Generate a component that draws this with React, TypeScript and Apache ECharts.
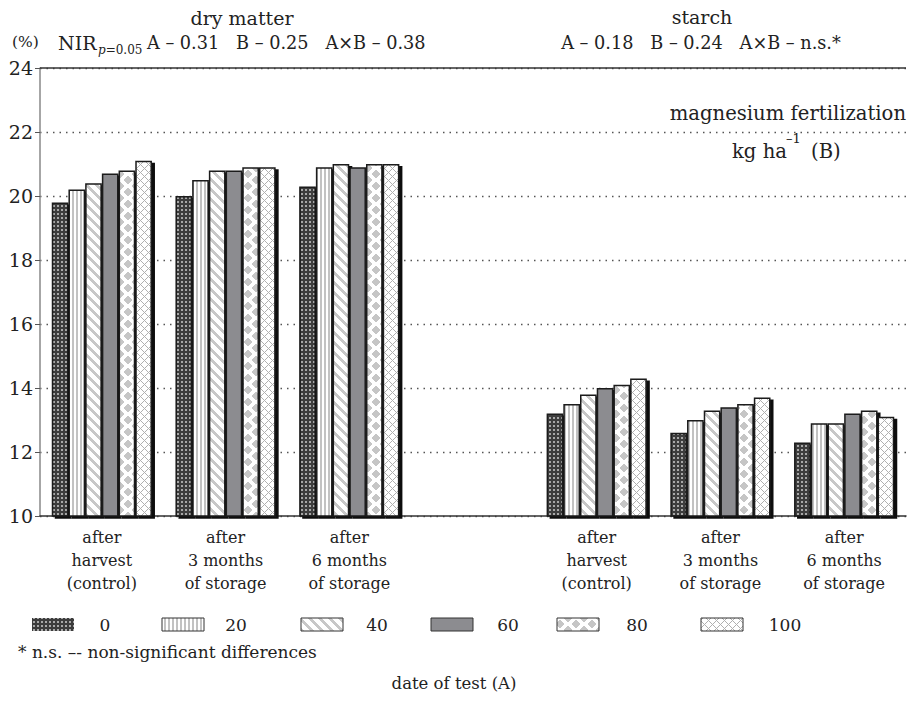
import React, { useEffect, useRef } from 'react';
import * as echarts from 'echarts';

// ---------- DATA ----------
const categories = [
  'after\nharvest\n(control)',
  'after\n3 months\nof storage',
  'after\n6 months\nof storage',
  '',
  'after\nharvest\n(control)',
  'after\n3 months\nof storage',
  'after\n6 months\nof storage',
];
const doseNames = ['0', '20', '40', '60', '80', '100'];

// dry matter (%) for the 3 test dates, by Mg dose
const dryMatter0 = [19.8, 20.0, 20.3];
const dryMatter20 = [20.2, 20.5, 20.9];
const dryMatter40 = [20.4, 20.8, 21.0];
const dryMatter60 = [20.7, 20.8, 20.9];
const dryMatter80 = [20.8, 20.9, 21.0];
const dryMatter100 = [21.1, 20.9, 21.0];

// starch (%) for the 3 test dates, by Mg dose
const starch0 = [13.2, 12.6, 12.3];
const starch20 = [13.5, 13.0, 12.9];
const starch40 = [13.8, 13.3, 12.9];
const starch60 = [14.0, 13.4, 13.2];
const starch80 = [14.1, 13.5, 13.3];
const starch100 = [14.3, 13.7, 13.1];

const yMin = 10;
const yMax = 24;
const yStep = 2;

const dryMatterNote = 'A – 0.31   B – 0.25   A×B – 0.38';
const starchNote = 'A – 0.18   B – 0.24   A×B – n.s.*';

// ---------- STYLE ----------
const FONT = '"DejaVu Serif", serif';
const INK = '#222';

function makeTile(w: number, h: number, fn: (x: number, y: number) => string) {
  const c = document.createElement('canvas');
  c.width = w;
  c.height = h;
  const ctx = c.getContext('2d')!;
  for (let y = 0; y < h; y++) {
    for (let x = 0; x < w; x++) {
      ctx.fillStyle = fn(x, y);
      ctx.fillRect(x, y, 1, 1);
    }
  }
  return { image: c, repeat: 'repeat', imageWidth: w, imageHeight: h } as any;
}

function buildPatterns() {
  const p0 = makeTile(4, 4, (x, y) => ((x === 1 || x === 2) && (y === 1 || y === 2) ? '#a8a8a8' : '#3c3c3c'));
  const p20 = makeTile(4, 1, (x) => (x < 2 ? '#c2c2c2' : '#ffffff'));
  const p40 = makeTile(10, 10, (x, y) => ((((x - y) % 10) + 10) % 10 < 4 ? '#c8c8c8' : '#ffffff'));
  const p60 = '#8c8c90';
  const p80 = makeTile(16, 12, (x, y) => {
    const pts = [[0, 0], [16, 0], [0, 12], [16, 12], [8, 6]];
    const cx = x + 0.5;
    const cy = y + 0.5;
    for (const [px, py] of pts) {
      if (Math.abs(cx - px) / 4.2 + Math.abs(cy - py) / 4.6 <= 1) return '#c6c6c6';
    }
    return '#ffffff';
  });
  const p100 = makeTile(8, 8, (x, y) => ((x + y) % 8 === 0 || (x - y + 8) % 8 === 0 ? '#b0b0b0' : '#ffffff'));
  return [p0, p20, p40, p60, p80, p100];
}

export default function App() {
  const ref = useRef<HTMLDivElement>(null);

  useEffect(() => {
    const chart = echarts.init(ref.current!, null, { renderer: 'svg' });
    const patterns = buildPatterns();
    const dryMatter = [dryMatter0, dryMatter20, dryMatter40, dryMatter60, dryMatter80, dryMatter100];
    const starch = [starch0, starch20, starch40, starch60, starch80, starch100];

    const series: any[] = doseNames.map((name, i) => ({
      type: 'bar',
      name,
      data: [...dryMatter[i], '-', ...starch[i]],
      barGap: '0%',
      barCategoryGap: '19%',
      itemStyle: {
        color: patterns[i],
        borderColor: '#1a1a1a',
        borderWidth: 1.5,
        shadowColor: '#111',
        shadowBlur: 0,
        shadowOffsetX: 3,
        shadowOffsetY: 2,
      },
      emphasis: { disabled: true },
      markLine:
        i === 0
          ? {
              silent: true,
              symbol: 'none',
              label: { show: false },
              lineStyle: { type: 'solid', color: '#333', width: 1.5 },
              data: [{ yAxis: yMax }],
            }
          : undefined,
    }));

    const legendX = [32, 162, 301, 431, 557, 701];
    const legendLabelX = [105, 236, 377, 508, 637, 785];
    const legendGraphics: any[] = [];
    doseNames.forEach((name, i) => {
      legendGraphics.push({
        type: 'rect',
        shape: { x: legendX[i], y: 618, width: 42, height: 13 },
        style: { fill: patterns[i], stroke: i === 0 ? null : '#333', lineWidth: 1 },
      });
      legendGraphics.push({
        type: 'text',
        x: legendLabelX[i],
        y: 625,
        style: { text: name, textAlign: 'center', textVerticalAlign: 'middle', font: `17px ${FONT}`, fill: INK },
      });
    });

    const txt = (x: number, y: number, text: string, size: number, align = 'center', extra: any = {}) => ({
      type: 'text',
      x,
      y,
      style: { text, textAlign: align, textVerticalAlign: 'middle', font: `${size}px ${FONT}`, fill: INK, ...extra },
    });

    chart.setOption({
      animation: false,
      backgroundColor: '#ffffff',
      textStyle: { fontFamily: FONT },
      grid: { left: 40, right: 2, top: 68, bottom: 194, containLabel: false },
      xAxis: {
        type: 'category',
        data: categories,
        axisLine: { lineStyle: { color: '#333', width: 1.5 } },
        axisTick: { show: false },
        axisLabel: { interval: 0, fontFamily: FONT, fontSize: 16, color: INK, lineHeight: 23, margin: 10 },
      },
      yAxis: {
        type: 'value',
        min: yMin,
        max: yMax,
        interval: yStep,
        axisLine: { show: true, lineStyle: { color: '#888', width: 1.5 } },
        axisTick: { show: true, length: 5, lineStyle: { color: '#555', width: 1 } },
        axisLabel: { fontFamily: FONT, fontSize: 19, color: INK, margin: 7 },
        splitLine: { show: true, lineStyle: { type: [1.5, 5], color: '#555', width: 1.3 } },
      },
      series,
      graphic: [
        txt(242, 18, 'dry matter', 19),
        txt(12, 42, '(%)', 15.5, 'left'),
        txt(58, 43, 'NIR', 19, 'left'),
        {
          type: 'text',
          x: 98,
          y: 50,
          style: {
            text: '{i|p}=0.05',
            textAlign: 'left',
            textVerticalAlign: 'middle',
            font: `12px ${FONT}`,
            fill: INK,
            rich: { i: { fontStyle: 'italic', fontFamily: FONT, fontSize: 12, fill: INK } },
          },
        },
        txt(147, 43, dryMatterNote, 17.7, 'left'),
        txt(702, 17, 'starch', 19),
        txt(701, 43, starchNote, 17.7),
        txt(906, 113, 'magnesium fertilization', 19.6, 'right'),
        txt(732, 151, 'kg ha', 19.6, 'left'),
        txt(786, 138, '–1', 13, 'left'),
        txt(811, 151, '(B)', 19.6, 'left'),
        ...legendGraphics,
        txt(18, 652, '* n.s. –- non-significant differences', 17, 'left'),
        txt(454, 683, 'date of test (A)', 16.5),
      ],
    });

    return () => chart.dispose();
  }, []);

  return (
    <div
      ref={ref}
      style={{ position: 'fixed', left: 0, top: 0, width: 908, height: 710, background: '#fff' }}
    />
  );
}
